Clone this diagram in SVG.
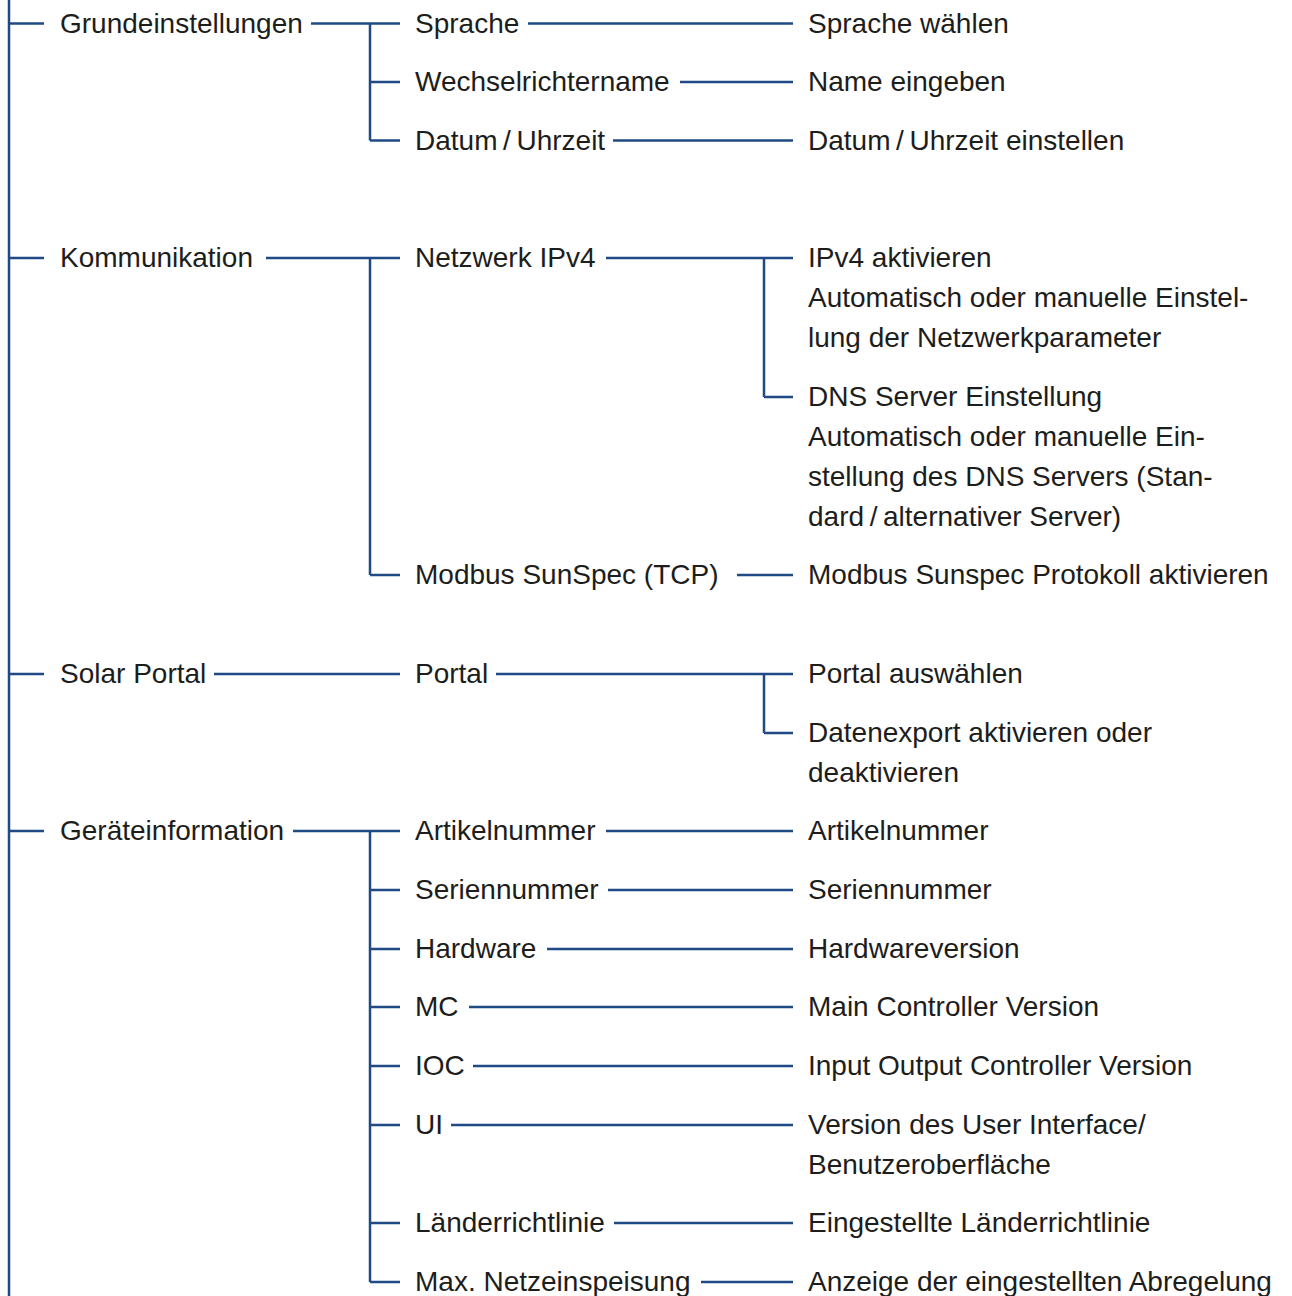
<svg xmlns="http://www.w3.org/2000/svg" width="1292" height="1296" viewBox="0 0 1292 1296">
<style>
.c{stroke:#1f4a85;stroke-width:2.5;fill:none}
text{font-family:"Liberation Sans",Arial,sans-serif;font-size:28px;fill:#1d1d1b}
</style>
<rect width="1292" height="1296" fill="#ffffff"/>
<g id="connectors">
<path class="c" d="M9 0V1296"/>
<path class="c" d="M9 23.5H44M9 258H44M9 674H44M9 831H44"/>
<path class="c" d="M311 23.5H400M370 23.5V140.5M370 82H400M370 140.5H400"/>
<path class="c" d="M528 23.5H793M680 82H793M613 140.5H793"/>
<path class="c" d="M266 258H400M370 258V575M370 575H400"/>
<path class="c" d="M606 258H793M764 258V397M764 397H793"/>
<path class="c" d="M737 575H793"/>
<path class="c" d="M214 674H400M496 674H793M764 674V733M764 733H793"/>
<path class="c" d="M293 831H400M370 831V1282M370 890H400M370 949H400M370 1007H400M370 1066H400M370 1125H400M370 1223H400M370 1282H400"/>
<path class="c" d="M606 831H793M608 890H793M547 949H793M469 1007H793M473 1066H793M451 1125H793M614 1223H793M701 1282H793"/>
</g>
<g id="n-grundeinstellungen"><text x="60" y="32.5">Grundeinstellungen</text></g>
<g id="n-kommunikation"><text x="60" y="267">Kommunikation</text></g>
<g id="n-solarportal"><text x="60" y="683">Solar Portal</text></g>
<g id="n-geraeteinformation"><text x="60" y="840">Geräteinformation</text></g>
<g id="n-sprache"><text x="415" y="32.5">Sprache</text></g>
<g id="n-wechselrichtername"><text x="415" y="91">Wechselrichtername</text></g>
<g id="n-datum"><text x="415" y="149.5">Datum&#8201;/&#8201;Uhrzeit</text></g>
<g id="n-netzwerk"><text x="415" y="267">Netzwerk IPv4</text></g>
<g id="n-modbus"><text x="415" y="584">Modbus SunSpec (TCP)</text></g>
<g id="n-portal"><text x="415" y="683">Portal</text></g>
<g id="n-artikelnummer"><text x="415" y="840">Artikelnummer</text></g>
<g id="n-seriennummer"><text x="415" y="899">Seriennummer</text></g>
<g id="n-hardware"><text x="415" y="958">Hardware</text></g>
<g id="n-mc"><text x="415" y="1016">MC</text></g>
<g id="n-ioc"><text x="415" y="1075">IOC</text></g>
<g id="n-ui"><text x="415" y="1134">UI</text></g>
<g id="n-laender"><text x="415" y="1232">Länderrichtlinie</text></g>
<g id="n-max"><text x="415" y="1291">Max. Netzeinspeisung</text></g>
<g id="n-sprache-waehlen"><text x="808" y="32.5">Sprache wählen</text></g>
<g id="n-name-eingeben"><text x="808" y="91">Name eingeben</text></g>
<g id="n-datum-einstellen"><text x="808" y="149.5">Datum&#8201;/&#8201;Uhrzeit einstellen</text></g>
<g id="n-ipv4"><text x="808" y="267">IPv4 aktivieren</text><text x="808" y="307">Automatisch oder manuelle Einstel-</text><text x="808" y="347">lung der Netzwerkparameter</text></g>
<g id="n-dns"><text x="808" y="406">DNS Server Einstellung</text><text x="808" y="446">Automatisch oder manuelle Ein-</text><text x="808" y="486">stellung des DNS Servers (Stan-</text><text x="808" y="526">dard&#8201;/&#8201;alternativer Server)</text></g>
<g id="n-modbus-akt"><text x="808" y="584">Modbus Sunspec Protokoll aktivieren</text></g>
<g id="n-portal-ausw"><text x="808" y="683">Portal auswählen</text></g>
<g id="n-datenexport"><text x="808" y="742">Datenexport aktivieren oder</text><text x="808" y="782">deaktivieren</text></g>
<g id="n-artikelnummer2"><text x="808" y="840">Artikelnummer</text></g>
<g id="n-seriennummer2"><text x="808" y="899">Seriennummer</text></g>
<g id="n-hardwareversion"><text x="808" y="958">Hardwareversion</text></g>
<g id="n-mcv"><text x="808" y="1016">Main Controller Version</text></g>
<g id="n-iocv"><text x="808" y="1075">Input Output Controller Version</text></g>
<g id="n-uiv"><text x="808" y="1134">Version des User Interface/</text><text x="808" y="1174">Benutzeroberfläche</text></g>
<g id="n-laender2"><text x="808" y="1232">Eingestellte Länderrichtlinie</text></g>
<g id="n-abregelung"><text x="808" y="1291">Anzeige der eingestellten Abregelung</text></g>
</svg>
